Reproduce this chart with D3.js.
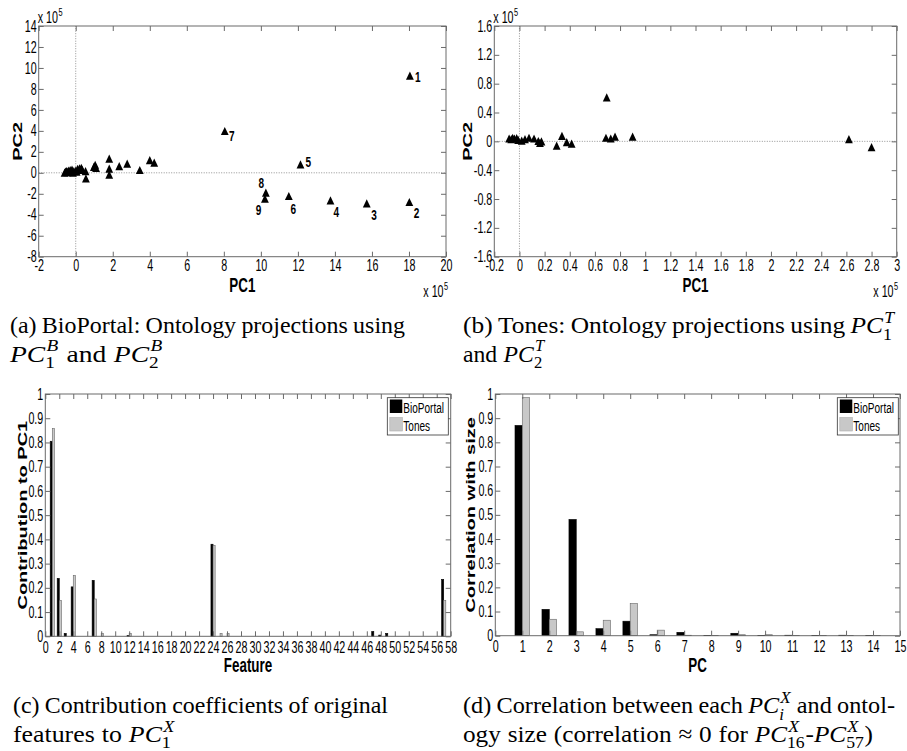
<!DOCTYPE html>
<html><head><meta charset="utf-8">
<script src="https://cdn.jsdelivr.net/npm/d3@7"></script>
<style>body{margin:0;background:#fff}svg{display:block}</style>
</head><body><script>
// ---------------- DATA ----------------
// (a) BioPortal projections (x10^5)
const bioX = [18.05, 18.02, 15.72, 13.76, 12.14, 11.51, 8.05, 10.27, 10.22,
  0.53, 0.55, 0.98, 1.05, 1.1, 1.81, 1.81, 1.81, 2.35, 2.78, 3.46, 4.0, 4.24,
  -0.6, -0.55, -0.5, -0.45, -0.4, -0.35, -0.3, -0.25, -0.2, -0.15, -0.1, 0.0, 0.05, 0.1, 0.2, 0.25, 0.3, 0.35];
const bioY = [9.2, -2.85, -2.98, -2.69, 0.74, -2.28, 3.92, -1.95, -2.53,
  0.1, -0.6, 0.5, 0.7, 0.4, 1.28, 0.33, -0.24, 0.58, 0.8, 0.2, 1.15, 0.9,
  -0.05, 0.05, 0.1, 0.0, 0.15, 0.05, 0.2, 0.1, 0.25, -0.05, 0.1, 0.15, 0.05, 0.3, 0.35, 0.2, 0.4, 0.25];
const bioLabels = ["1","2","3","4","5","6","7","8","9"];
// (b) Tones projections (x10^5)
const tonesX = [-0.082, -0.065, -0.054, -0.04, -0.022, -0.01, 0.018, 0.044, 0.076, 0.116, 0.15, 0.163, 0.175,
  0.296, 0.338, 0.376, 0.415, 0.694, 0.688, 0.726, 0.76, 0.90, 2.62, 2.80];
const tonesY = [0.03, 0.02, 0.04, 0.03, 0.035, 0.01, 0.0, 0.02, 0.04, 0.03, -0.005, -0.03, -0.01,
  -0.07, 0.065, -0.02, -0.04, 0.6, 0.04, 0.03, 0.055, 0.056, 0.02, -0.09];
// (c) contribution to PC1, features 1..57
const features = d3.range(1, 58);
const bioContrib = [0.805,0.239,0.012,0.204,0,0,0.231,0,0,0,0,0.003,0,0,0,0,0,0,0,0,0,0,0,0.38,0,0,0,0,0,0,
  0,0,0,0,0,0,0,0,0,0,0,0,0,0,0,0,0.02,0.005,0.012,0,0,0,0,0,0,0,0.235];
const tonesContrib = [0.857,0.148,0,0.251,0,0,0.154,0.012,0,0,0,0.012,0,0,0,0,0,0,0,0,0,0,0,0.375,0.012,0.012,0,0,0,0,
  0,0,0,0,0,0,0,0,0,0,0,0,0,0,0,0,0,0,0,0,0,0,0,0,0,0,0.147];
// (d) correlation with size, PC 1..14
const pcs = [1,2,3,4,5,6,7,8,9,10,11,12,13,14];
const bioCorr = [0.87,0.109,0.481,0.029,0.06,0.004,0.014,0.001,0.01,0.001,0.002,0.001,0.002,0.001];
const tonesCorr = [0.985,0.068,0.016,0.064,0.133,0.023,0.002,0.001,0.004,0.004,0.001,0.001,0.001,0.001];
const seriesNames = ["BioPortal","Tones"];
// tick labels
const aXTicks = [-2,0,2,4,6,8,10,12,14,16,18,20];
const aYTicks = [-8,-6,-4,-2,0,2,4,6,8,10,12,14];
const bXTicks = [-0.2,0,0.2,0.4,0.6,0.8,1,1.2,1.4,1.6,1.8,2,2.2,2.4,2.6,2.8,3];
const bYTicks = [-1.6,-1.2,-0.8,-0.4,0,0.4,0.8,1.2,1.6];
const cXTicks = [0,2,4,6,8,10,12,14,16,18,20,22,24,26,28,30,32,34,36,38,40,42,44,46,48,50,52,54,56,58];
const cYTicks = [0,0.1,0.2,0.3,0.4,0.5,0.6,0.7,0.8,0.9,1];
const dXTicks = [0,1,2,3,4,5,6,7,8,9,10,11,12,13,14,15];

// ---------------- STYLE ----------------
const SANS = "'Liberation Sans', Arial, sans-serif";
const SERIF = "'Liberation Serif', 'Times New Roman', serif";
const SX = 0.67, FRAME = "#6a6a6a", GREY = "#c8c8c8";
const svg = d3.select("body").append("svg").attr("width",907).attr("height",751).style("background","#fff");

function htext(g, x, y, s, o={}) {
  return g.append("text").attr("transform",`translate(${x},${y}) scale(${SX},1)`)
    .attr("font-family",SANS).attr("font-size",o.fs||16).attr("font-weight",o.bold?"bold":"normal")
    .attr("text-anchor",o.anchor||"start").attr("fill","#000").text(s);
}
function vtext(g, x, y, s, fs) {
  return g.append("text").attr("transform",`translate(${x},${y}) rotate(-90) scale(1,${SX})`)
    .attr("font-family",SANS).attr("font-size",fs).attr("font-weight","bold")
    .attr("text-anchor","middle").attr("fill","#000").text(s);
}
function axes(g, x, y, xt, yt, xf, yf, pad) {
  const [x0,x1] = x.range(), [yb,yt0] = y.range();
  const st = s => { s.select(".domain").remove(); s.selectAll("line").attr("stroke",FRAME).attr("stroke-width",1); };
  const lab = s => s.selectAll("text").attr("fill","#000").attr("font-family",SANS).attr("font-size",16).attr("transform",`scale(${SX},1)`);
  g.append("g").attr("transform",`translate(0,${yb})`)
    .call(d3.axisBottom(x).tickValues(xt).tickFormat(xf).tickSizeInner(-5).tickSizeOuter(0).tickPadding(pad)).call(st).call(lab);
  g.append("g").attr("transform",`translate(0,${yt0})`)
    .call(d3.axisTop(x).tickValues(xt).tickFormat("").tickSizeInner(-5).tickSizeOuter(0)).call(st);
  g.append("g").attr("transform",`translate(${x0},0)`)
    .call(d3.axisLeft(y).tickValues(yt).tickFormat(yf).tickSizeInner(-5).tickSizeOuter(0).tickPadding(3)).call(st).call(lab);
  g.append("g").attr("transform",`translate(${x1},0)`)
    .call(d3.axisRight(y).tickValues(yt).tickFormat("").tickSizeInner(-5).tickSizeOuter(0)).call(st);
  g.append("rect").attr("x",x0).attr("y",yt0).attr("width",x1-x0).attr("height",yb-yt0)
    .attr("fill","none").attr("stroke",FRAME).attr("stroke-width",1);
}
const fmt = d => String(d);
const TRI = "M0,-4.8L3.9,3.4L-3.9,3.4Z";
function x105(g, x, y) {
  const t = htext(g, x, y, "x 10", {fs:16});
  const w = t.node().getComputedTextLength()*SX;
  htext(g, x + w + 0.5, y - 7, "5", {fs:11});
}

// ---------------- (a) ----------------
{
  const g = svg.append("g");
  const x = d3.scaleLinear().domain([-2,20]).range([38.7,446]);
  const y = d3.scaleLinear().domain([-8,14]).range([256.7,26]);
  g.append("line").attr("x1",x(0)).attr("x2",x(0)).attr("y1",y(-8)).attr("y2",y(14)).attr("stroke","#777").attr("stroke-width",0.8).attr("stroke-dasharray","1,1.5");
  g.append("line").attr("x1",x(-2)).attr("x2",x(20)).attr("y1",y(0)).attr("y2",y(0)).attr("stroke","#777").attr("stroke-width",0.8).attr("stroke-dasharray","1,1.5");
  axes(g, x, y, aXTicks, aYTicks, fmt, fmt, 3);
  g.selectAll("path.pt").data(bioX).join("path").attr("class","pt")
    .attr("transform",(d,i)=>`translate(${x(d)},${y(bioY[i])})`).attr("d",TRI).attr("fill","#000");
  const off = [[5,6],[4.3,15.6],[4.4,16],[3,16.3],[5,1.7],[1.7,17.3],[4.3,9],[-7.3,-5],[-9.3,15.7]];
  bioLabels.forEach((l,i)=>htext(g, x(bioX[i])+off[i][0], y(bioY[i])+off[i][1], l, {fs:15, bold:true}));
  htext(g, x(9), 292, "PC1", {fs:20, bold:true, anchor:"middle"});
  vtext(g, 21.5, y(3), "PC2", 20);
  x105(g, 37.7, 23.3);
  x105(g, 423.3, 297);
}
// ---------------- (b) ----------------
{
  const g = svg.append("g");
  const x = d3.scaleLinear().domain([-0.2,3]).range([494.3,896.7]);
  const y = d3.scaleLinear().domain([-1.6,1.6]).range([256.7,26]);
  g.append("line").attr("x1",x(0)).attr("x2",x(0)).attr("y1",y(-1.6)).attr("y2",y(1.6)).attr("stroke","#777").attr("stroke-width",0.8).attr("stroke-dasharray","1,1.5");
  g.append("line").attr("x1",x(-0.2)).attr("x2",x(3)).attr("y1",y(0)).attr("y2",y(0)).attr("stroke","#777").attr("stroke-width",0.8).attr("stroke-dasharray","1,1.5");
  axes(g, x, y, bXTicks, bYTicks, fmt, fmt, 3);
  g.selectAll("path.pt").data(tonesX).join("path").attr("class","pt")
    .attr("transform",(d,i)=>`translate(${x(d)},${y(tonesY[i])})`).attr("d",TRI).attr("fill","#000");
  htext(g, x(1.4), 292, "PC1", {fs:20, bold:true, anchor:"middle"});
  vtext(g, 471.7, y(0), "PC2", 20);
  x105(g, 493.3, 23.3);
  x105(g, 873.3, 297);
}
// ---------------- bar charts ----------------
function barChart(g, cats, s1, s2, xr, yr, xDom, xt, bw, xlabel, ylabel, ylx, legX) {
  const x = d3.scaleLinear().domain(xDom).range(xr);
  const y = d3.scaleLinear().domain([0,1]).range(yr);
  g.selectAll("rect.b1").data(cats).join("rect").attr("class","b1")
    .attr("x",d=>x(d-bw)).attr("width",d=>x(d)-x(d-bw)).attr("y",(d,i)=>y(s1[i])).attr("height",(d,i)=>y(0)-y(s1[i]))
    .attr("fill","#000").attr("stroke","#000").attr("stroke-width",0.6);
  g.selectAll("rect.b2").data(cats).join("rect").attr("class","b2")
    .attr("x",d=>x(d)).attr("width",d=>x(d+bw)-x(d)).attr("y",(d,i)=>y(s2[i])).attr("height",(d,i)=>y(0)-y(s2[i]))
    .attr("fill",GREY).attr("stroke","#666").attr("stroke-width",0.6);
  axes(g, x, y, xt, cYTicks, fmt, fmt, 5);
  htext(g, (xr[0]+xr[1])/2, 672, xlabel, {fs:20, bold:true, anchor:"middle"});
  vtext(g, ylx, y(0.5), ylabel, 20);
  const lg = g.append("g");
  lg.append("rect").attr("x",legX).attr("y",397.7).attr("width",61).attr("height",37.3).attr("fill","#fff").attr("stroke","#333").attr("stroke-width",0.8);
  lg.append("rect").attr("x",legX+2.5).attr("y",399.5).attr("width",12.5).attr("height",13.5).attr("fill","#000");
  lg.append("rect").attr("x",legX+2.5).attr("y",417.5).attr("width",12.5).attr("height",13.5).attr("fill",GREY).attr("stroke","#aaa").attr("stroke-width",0.6);
  htext(lg, legX+16, 413, seriesNames[0], {fs:15});
  htext(lg, legX+16, 431, seriesNames[1], {fs:15});
}
barChart(svg.append("g"), features, bioContrib, tonesContrib, [45.3,450.7], [636.3,394], [0,58], cXTicks, 0.3,
  "Feature", "Contribution to PC1", 26.5, 387.3);
barChart(svg.append("g"), pcs, bioCorr, tonesCorr, [495.3,900], [635.7,394], [0,15], dXTicks, 0.27,
  "PC", "Correlation with size", 475, 837.3);

// ---------------- captions ----------------
const FS = 24;
function M(base, sub, sup){ return {math:true, base, sub, sup}; }
function L(...parts){
  const items = [];
  parts.forEach(p=>{
    if (typeof p === "string") p.split(/( )/).forEach(t=>{ if (t===" ") items.push({glue:true}); else if (t!=="") items.push({word:t}); });
    else items.push(p);
  });
  return items;
}
// x0..x1: extent of the line in the reference; justify: spaces stretch, else glyphs scale to fit
function richLine(x0, x1, y, items, justify) {
  const g = svg.append("g").attr("font-family",SERIF).attr("fill","#000");
  const boxes = items.map(it=>{
    if (it.glue) return {glue:true};
    const bg = g.append("g");
    let w;
    if (it.word !== undefined) {
      w = bg.append("text").attr("font-size",FS).text(it.word).node().getComputedTextLength();
    } else {
      const wb = bg.append("text").attr("font-size",FS).attr("font-style","italic").text(it.base).node().getComputedTextLength();
      const sfs = FS*0.7;
      const ws = bg.append("text").attr("font-size",sfs).attr("x",wb).attr("y",FS*0.28)
        .attr("font-style",/^[0-9]+$/.test(it.sub)?"normal":"italic").text(it.sub).node().getComputedTextLength();
      const wp = bg.append("text").attr("font-size",sfs).attr("x",wb+FS*0.05).attr("y",-FS*0.42)
        .attr("font-style","italic").text(it.sup).node().getComputedTextLength();
      w = wb + Math.max(ws, wp+FS*0.05) + FS*0.03;
    }
    return {g:bg, w};
  });
  const target = x1 - x0;
  const nat = d3.sum(boxes, b=>b.glue?0:b.w);
  const ng = boxes.filter(b=>b.glue).length;
  let gs, sp;
  if (justify) { gs = Math.min(1.06, (target - ng*FS*0.22)/nat); sp = (target - nat*gs)/Math.max(ng,1); }
  else { const base = nat + ng*FS*0.27; gs = target/base; sp = FS*0.27*gs; }
  let cx = x0;
  boxes.forEach(b=>{ if (b.glue) cx += sp; else { b.g.attr("transform",`translate(${cx},${y}) scale(${gs},1)`); cx += b.w*gs; } });
}
richLine(10, 405, 333, L("(a) BioPortal: Ontology projections using"), true);
richLine(10, 163, 361.5, L(M("PC","1","B"), " and ", M("PC","2","B")), false);
richLine(463, 895, 333, L("(b) Tones: Ontology projections using ", M("PC","1","T")), true);
richLine(463, 545, 361.5, L("and ", M("PC","2","T")), false);
richLine(13, 388, 713.3, L("(c) Contribution coefficients of original"), true);
richLine(13, 175, 741.7, L("features to ", M("PC","1","X")), false);
richLine(463, 895, 713.3, L("(d) Correlation between each ", M("PC","i","X"), " and ontol-"), true);
richLine(463, 873, 741.7, L("ogy size (correlation \u2248 0 for ", M("PC","16","X"), "-", M("PC","57","X"), ")"), false);
</script></body></html>
